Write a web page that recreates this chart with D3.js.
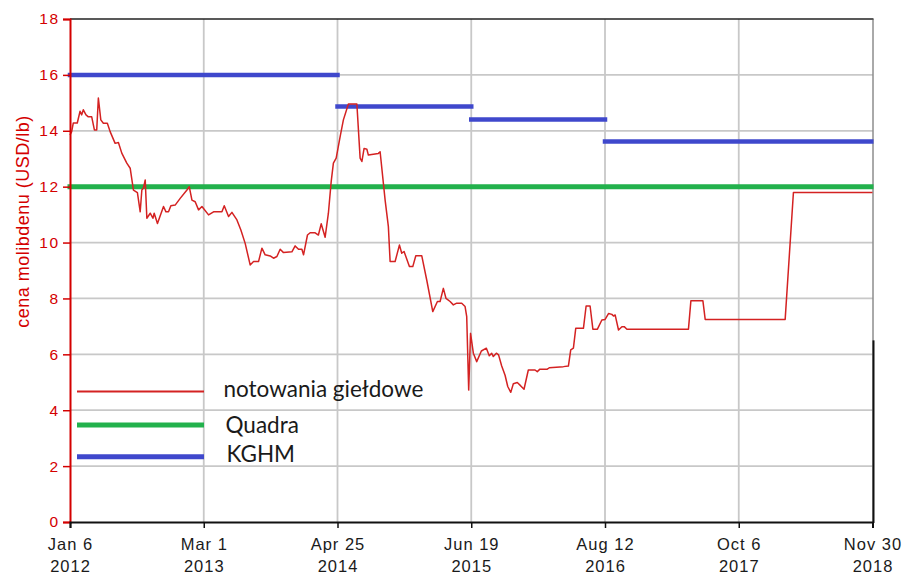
<!DOCTYPE html>
<html>
<head>
<meta charset="utf-8">
<script src="https://cdn.jsdelivr.net/npm/d3@7"></script>
<style>
  html, body { margin: 0; padding: 0; background: #fff; }
  svg { display: block; }
</style>
</head>
<body>
<svg id="chart" width="904" height="575"></svg>
<script>
// ---------- DATA ----------
// x-axis tick dates and labels
const tickDates = ["2012-01-06","2013-03-01","2014-04-25","2015-06-19","2016-08-12","2017-10-06","2018-11-30"];
const tickLine1 = ["Jan 6","Mar 1","Apr 25","Jun 19","Aug 12","Oct 6","Nov 30"];
const tickLine2 = ["2012","2013","2014","2015","2016","2017","2018"];
const yTicks = [0,2,4,6,8,10,12,14,16,18];

// exchange quotations (notowania giełdowe): dates as decimal years, price USD/lb
const priceDates = [
  2012.014,2012.028,2012.042,2012.076,2012.100,2012.114,2012.128,2012.151,2012.171,2012.200,
  2012.223,2012.243,2012.257,2012.278,2012.300,2012.334,2012.358,2012.401,2012.429,2012.458,
  2012.501,2012.530,2012.558,2012.592,2012.616,2012.630,2012.644,2012.659,2012.673,2012.702,
  2012.725,2012.736,2012.764,2012.816,2012.837,2012.859,2012.879,2012.916,2012.959,2013.017,
  2013.037,2013.060,2013.088,2013.117,2013.146,2013.203,2013.246,2013.318,2013.338,2013.375,
  2013.404,2013.447,2013.481,2013.518,2013.561,2013.590,2013.633,2013.662,2013.690,2013.733,
  2013.762,2013.791,2013.819,2013.848,2013.920,2013.948,2013.977,2014.006,2014.020,2014.054,
  2014.077,2014.120,2014.148,2014.172,2014.206,2014.234,2014.258,2014.277,2014.301,2014.335,
  2014.363,2014.406,2014.479,2014.507,2014.522,2014.541,2014.565,2014.578,2014.664,2014.679,
  2014.722,2014.750,2014.765,2014.808,2014.845,2014.865,2014.885,2014.931,2014.960,2014.986,
  2015.037,2015.080,2015.132,2015.172,2015.195,2015.223,2015.246,2015.281,2015.309,2015.338,
  2015.381,2015.410,2015.424,2015.441,2015.457,2015.481,2015.510,2015.550,2015.593,2015.618,
  2015.639,2015.653,2015.679,2015.698,2015.725,2015.754,2015.777,2015.803,2015.825,2015.859,
  2015.889,2015.917,2015.954,2016.012,2016.031,2016.054,2016.117,2016.134,2016.255,2016.298,
  2016.318,2016.341,2016.361,2016.427,2016.450,2016.484,2016.508,2016.547,2016.585,2016.613,
  2016.642,2016.671,2016.685,2016.699,2016.728,2016.757,2016.777,2016.800,2017.329,2017.350,
  2017.453,2017.473,2018.161,2018.232,2018.912
];
const priceValues = [
  13.85,13.97,14.28,14.28,14.70,14.57,14.75,14.57,14.50,14.50,
  14.03,14.03,15.17,14.39,14.27,14.27,13.97,13.55,13.58,13.20,
  12.84,12.66,11.88,11.79,11.10,11.88,11.95,12.24,10.87,11.05,
  10.87,11.05,10.68,11.29,11.10,11.10,11.32,11.34,11.58,11.88,
  12.00,11.52,11.46,11.17,11.29,10.99,11.10,11.10,11.32,10.93,
  11.08,10.81,10.45,9.97,9.20,9.32,9.32,9.80,9.56,9.52,
  9.44,9.50,9.76,9.64,9.67,9.88,9.76,9.76,9.56,10.27,
  10.35,10.35,10.27,10.67,10.19,11.05,12.18,12.84,13.02,13.79,
  14.39,14.96,14.96,13.02,12.90,13.37,13.34,13.13,13.19,13.25,
  11.52,10.57,9.32,9.32,9.91,9.62,9.68,9.14,9.14,9.53,
  9.53,8.66,7.53,7.89,7.89,8.36,8.00,7.89,7.77,7.83,
  7.83,7.71,7.35,4.72,6.75,6.04,5.74,6.12,6.22,5.95,
  6.04,5.92,6.04,5.98,5.58,5.25,4.85,4.64,4.95,4.99,
  4.87,4.75,5.44,5.44,5.38,5.47,5.47,5.52,5.56,5.58,
  6.16,6.22,6.93,6.93,7.73,7.73,6.90,6.90,7.23,7.25,
  7.46,7.43,7.37,7.41,6.87,6.99,6.99,6.90,6.90,7.92,
  7.92,7.25,7.25,11.79,11.79
];

// KGHM price assumptions (segments)
const kghmStart  = ["2012-01-06","2014-04-25","2015-06-19","2016-08-12"];
const kghmEnd    = ["2014-04-25","2015-06-19","2016-08-12","2018-11-30"];
const kghmValues = [16.0, 14.87, 14.40, 13.62];

// Quadra price assumption
const quadraStart = "2012-01-06";
const quadraEnd   = "2018-11-30";
const quadraValue = 12.0;

// legend
const legendLabels = ["notowania giełdowe", "Quadra", "KGHM"];
const yAxisTitle = "cena molibdenu (USD/lb)";

// ---------- HELPERS ----------
const parseDate = d3.utcParse("%Y-%m-%d");
function decYearToDate(d) {
  const yr = Math.floor(d);
  const s = Date.UTC(yr, 0, 1), e = Date.UTC(yr + 1, 0, 1);
  return new Date(s + (d - yr) * (e - s));
}

// ---------- LAYOUT ----------
const L = 70, R = 872.5, T = 19, B = 522;
const svg = d3.select("#chart");

const x = d3.scaleUtc()
  .domain([parseDate(tickDates[0]), parseDate(tickDates[tickDates.length - 1])])
  .range([L, R]);
const y = d3.scaleLinear().domain([0, 18]).range([B, T]);

const COLORS = { red: "#d42222", axisRed: "#d40000", green: "#22b14c", blue: "#3f48cc", grid: "#c8c8c8" };

// grid
const grid = svg.append("g");
grid.selectAll("line.h").data(yTicks.filter(v => v > 0 && v < 18)).join("line")
  .attr("x1", L).attr("x2", R).attr("y1", d => y(d)).attr("y2", d => y(d))
  .attr("stroke", COLORS.grid).attr("stroke-width", 1.8);
grid.selectAll("line.v").data(tickDates.slice(1, -1)).join("line")
  .attr("x1", d => x(parseDate(d))).attr("x2", d => x(parseDate(d)))
  .attr("y1", T).attr("y2", B)
  .attr("stroke", COLORS.grid).attr("stroke-width", 1.8);

// top & right borders
svg.append("line").attr("x1", L).attr("x2", R + 1).attr("y1", T).attr("y2", T)
  .attr("stroke", "#222").attr("stroke-width", 1.6);
svg.append("line").attr("x1", R + 0.5).attr("x2", R + 0.5).attr("y1", T).attr("y2", B)
  .attr("stroke", "#555").attr("stroke-width", 1);
svg.append("line").attr("x1", R + 1).attr("x2", R + 1).attr("y1", y(6.5)).attr("y2", B + 1)
  .attr("stroke", "#111").attr("stroke-width", 2);

// clip for reference lines
svg.append("clipPath").attr("id", "clip").append("rect")
  .attr("x", L - 6).attr("y", 0).attr("width", R - L + 7).attr("height", B);

// Quadra
svg.append("line")
  .attr("clip-path", "url(#clip)")
  .attr("x1", x(parseDate(quadraStart))).attr("x2", x(parseDate(quadraEnd)))
  .attr("y1", y(quadraValue)).attr("y2", y(quadraValue))
  .attr("stroke", COLORS.green).attr("stroke-width", 5).attr("stroke-linecap", "square");

// KGHM
svg.append("g").attr("clip-path", "url(#clip)")
  .selectAll("line").data(kghmValues).join("line")
  .attr("x1", (d, i) => x(parseDate(kghmStart[i])))
  .attr("x2", (d, i) => x(parseDate(kghmEnd[i])))
  .attr("y1", d => y(d)).attr("y2", d => y(d))
  .attr("stroke", COLORS.blue).attr("stroke-width", 4.5).attr("stroke-linecap", "square");

// price line
const priceData = priceDates.map((d, i) => ({ date: decYearToDate(d), value: priceValues[i] }));
svg.append("path").datum(priceData)
  .attr("fill", "none").attr("stroke", COLORS.red).attr("stroke-width", 1.5)
  .attr("stroke-linejoin", "round")
  .attr("d", d3.line().x(d => x(d.date)).y(d => y(d.value)));

// y axis
const yAxis = svg.append("g").attr("transform", `translate(${L},0)`)
  .call(d3.axisLeft(y).tickValues(yTicks).tickSize(7).tickPadding(3).tickFormat(d3.format("d")));
yAxis.select(".domain").attr("stroke", COLORS.axisRed).attr("stroke-width", 2);
yAxis.selectAll(".tick line").attr("stroke", COLORS.axisRed).attr("stroke-width", 1.5);
yAxis.selectAll(".tick text")
  .attr("fill", COLORS.axisRed)
  .style("font-family", "'Liberation Sans', Arial, sans-serif")
  .style("font-size", "15.5px").style("letter-spacing", "1.8px");

// x axis
const xAxis = svg.append("g").attr("transform", `translate(0,${B})`)
  .call(d3.axisBottom(x).tickValues(tickDates.map(parseDate)).tickSize(6).tickFormat(""));
xAxis.select(".domain").attr("stroke", "#111").attr("stroke-width", 2);
xAxis.selectAll(".tick line").attr("stroke", "#111").attr("stroke-width", 1.5);
xAxis.selectAll(".tick").each(function(d, i) {
  const t = d3.select(this).append("text")
    .attr("fill", "#1a1a1a").attr("text-anchor", "middle")
    .style("font-family", "'Liberation Sans', Arial, sans-serif")
    .style("font-size", "16.5px").style("letter-spacing", "1px");
  t.append("tspan").attr("x", 0).attr("y", 28).text(tickLine1[i]);
  t.append("tspan").attr("x", 0).attr("y", 50).text(tickLine2[i]);
});

// y axis title
svg.append("text")
  .attr("transform", `translate(29,221.5) rotate(-90)`)
  .attr("text-anchor", "middle")
  .attr("fill", COLORS.axisRed)
  .style("font-family", "'Liberation Sans', Arial, sans-serif")
  .style("font-size", "18px").style("letter-spacing", "0.5px")
  .text(yAxisTitle);

// legend
const legendColors = [COLORS.red, COLORS.green, COLORS.blue];
const legendWidths = [2, 5, 5];
const legendLineY = [391.5, 425, 456.7];
const legendTextY = [397, 433, 462];
const legendTextX = [223.5, 225.5, 226.5];
const lg = svg.append("g");
legendLabels.forEach((lab, i) => {
  lg.append("line").attr("x1", 77).attr("x2", 204)
    .attr("y1", legendLineY[i]).attr("y2", legendLineY[i])
    .attr("stroke", legendColors[i]).attr("stroke-width", legendWidths[i]);
  lg.append("text").attr("x", legendTextX[i]).attr("y", legendTextY[i])
    .attr("fill", "#1a1a1a")
    .style("font-family", "Lato, 'Open Sans', sans-serif")
    .style("font-size", "22.5px")
    .text(lab);
});
</script>
</body>
</html>
